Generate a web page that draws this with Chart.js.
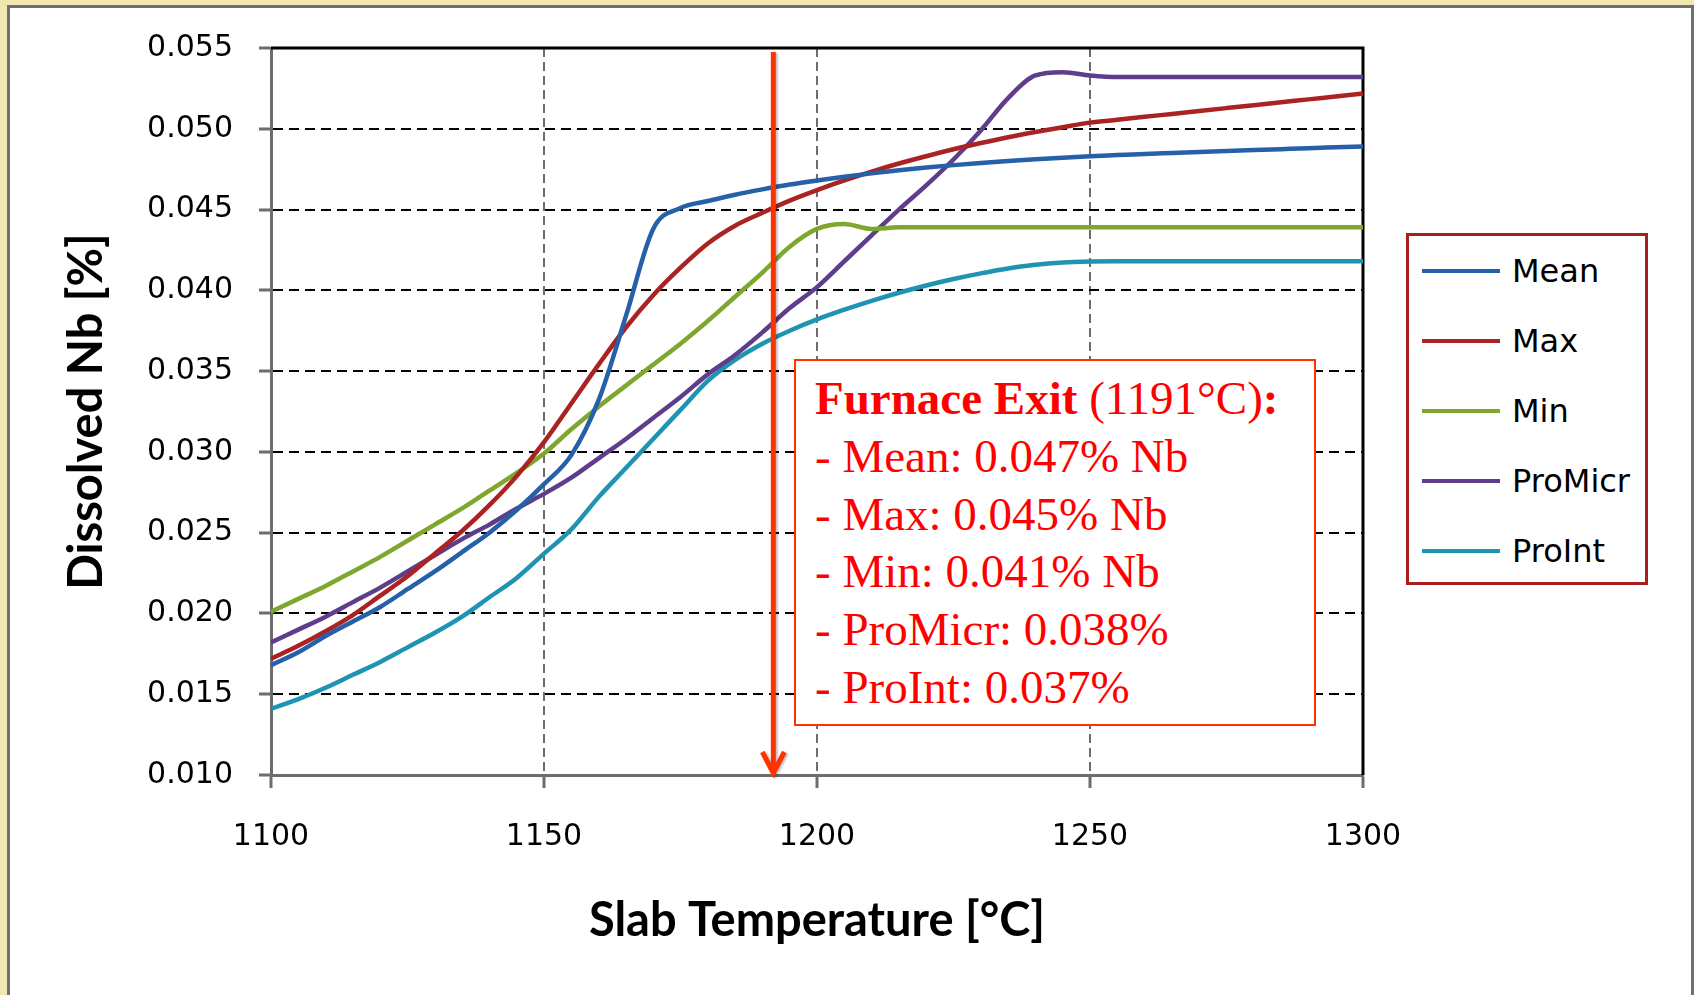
<!DOCTYPE html>
<html>
<head>
<meta charset="utf-8">
<script src="https://cdn.jsdelivr.net/npm/chart.js@4"></script>
<style>
  html, body { margin: 0; padding: 0; }
  body { width: 1694px; height: 995px; background: #F0E8B0; position: relative; overflow: hidden; }
  #pannello { position: absolute; left: 7px; top: 5px; width: 1687px; height: 1000px; box-sizing: border-box;
    border: 3px solid #6f6f6f; border-bottom: none; background: #fff; }
  #grafico { position: absolute; left: 0; top: 0; z-index: 1; }
  #legenda { position: absolute; left: 1406px; top: 233px; width: 242px; height: 352px; box-sizing: border-box;
    border: 3px solid #A81E1E; background: #fff; z-index: 2; }
  .voce { position: absolute; left: 13px; height: 40px; font: 32px "DejaVu Sans", sans-serif; color: #000; }
  .voce span.linea { position: absolute; left: 0; top: 18px; width: 78px; height: 4px; }
  .voce span.testo { position: absolute; left: 90px; top: 0; line-height: 40px; white-space: nowrap; }
  #nota { position: absolute; left: 794px; top: 359px; width: 522px; height: 367px; box-sizing: border-box;
    border: 2px solid #FF3300; background: #fff; z-index: 2; padding: 9px 0 0 19px;
    font: 47px/57.8px "Liberation Serif", "Times New Roman", serif; color: #FF0000; white-space: nowrap; }
</style>
</head>
<body>
<div id="pannello"></div>
<canvas id="grafico" width="1694" height="995"></canvas>
<div id="legenda"></div>
<div id="nota">
  <div><b>Furnace Exit</b> (1191°C)<b>:</b></div>
  <div>- Mean: 0.047% Nb</div>
  <div>- Max: 0.045% Nb</div>
  <div>- Min: 0.041% Nb</div>
  <div>- ProMicr: 0.038%</div>
  <div>- ProInt: 0.037%</div>
</div>
<script>
// temperature [°C]
var temperature = [1100,1105,1110,1115,1120,1125,1130,1135,1140,1145,1150,
                   1155,1160,1165,1170,1175,1180,1185,1190,1195,1200,
                   1205,1210,1215,1220,1225,1230,1235,1240,1245,1250,
                   1255,1260,1265,1270,1275,1280,1285,1290,1295,1300];

var mean = [0.0168,0.0176,0.0186,0.0195,0.0204,0.0215,0.0226,0.0238,0.0250,0.0264,0.0280,
            0.0298,0.0332,0.0384,0.0438,0.04510,0.04553,0.04592,0.04625,0.04655,0.04680,
            0.04703,0.04724,0.04743,0.04760,0.04775,0.04788,0.04800,0.04811,0.04821,0.04830,
            0.04837,0.04844,0.04850,0.04856,0.04862,0.04868,0.04874,0.04880,0.04885,0.04890];

var max = [0.0172,0.0180,0.0189,0.0199,0.0211,0.0223,0.0237,0.0251,0.0267,0.0285,0.0306,
           0.0330,0.0354,0.0377,0.0397,0.0414,0.0429,0.0440,0.0448,0.04555,0.04620,
           0.04680,0.04735,0.04785,0.04830,0.04873,0.04912,0.04948,0.04980,0.05010,0.05038,
           0.05056,0.05074,0.05092,0.05110,0.05128,0.05146,0.05164,0.05182,0.05200,0.05218];

var min = [0.0201,0.0209,0.0217,0.0226,0.0235,0.0245,0.0255,0.0265,0.0276,0.0287,0.0299,
           0.0314,0.0328,0.0341,0.0354,0.0367,0.0381,0.0396,0.0411,0.0427,0.0438,
           0.0441,0.0438,0.0439,0.0439,0.0439,0.0439,0.0439,0.0439,0.0439,0.0439,
           0.0439,0.0439,0.0439,0.0439,0.0439,0.0439,0.0439,0.0439,0.0439,0.0439];

var proMicr = [0.0182,0.0190,0.0198,0.0207,0.0216,0.0226,0.0236,0.0246,0.0255,0.0265,0.0274,
               0.0284,0.0296,0.0308,0.0321,0.0334,0.0348,0.0360,0.0374,0.0389,0.0402,
               0.0418,0.0434,0.0450,0.0465,0.0481,0.0499,0.0519,0.0533,0.0535,0.0533,
               0.0532,0.0532,0.0532,0.0532,0.0532,0.0532,0.0532,0.0532,0.0532,0.0532];

var proInt = [0.0141,0.0147,0.0154,0.0162,0.0170,0.0179,0.0188,0.0198,0.0210,0.0222,0.0237,
              0.0252,0.0272,0.0290,0.0308,0.0326,0.0344,0.0357,0.0367,0.0375,0.0382,
              0.03880,0.03935,0.03985,0.04030,0.04070,0.04105,0.04135,0.04158,0.04172,0.04178,
              0.0418,0.0418,0.0418,0.0418,0.0418,0.0418,0.0418,0.0418,0.0418,0.0418];

var nomiSerie = ["Mean", "Max", "Min", "ProMicr", "ProInt"];
var coloriSerie = ["#2560A8", "#AA2222", "#7FA62D", "#5E3D8A", "#1F93B2"];
var yTicks = [0.010, 0.015, 0.020, 0.025, 0.030, 0.035, 0.040, 0.045, 0.050, 0.055];
var xTicks = [1100, 1150, 1200, 1250, 1300];
var tempUscita = 1192;

var grigio = "#6d6d6d";

function punti(valori){
    return temperature.map((t, i) => ({x: t, y: valori[i]}));
}

function popolaLegenda(){
    var box = document.getElementById("legenda");
    for (var i = 0; i < nomiSerie.length; i++){
        var v = document.createElement("div");
        v.className = "voce";
        v.style.top = (15 + i * 70) + "px";
        v.innerHTML = '<span class="linea" style="background:' + coloriSerie[i] + '"></span><span class="testo">' + nomiSerie[i] + '</span>';
        box.appendChild(v);
    }
}

// bordo nero sopra e a destra
const cornice = {
    id: "cornice",
    beforeDatasetsDraw(chart){
        const a = chart.chartArea, ctx = chart.ctx;
        ctx.save();
        ctx.strokeStyle = "#000";
        ctx.lineWidth = 3;
        ctx.beginPath();
        ctx.moveTo(a.left, a.top);
        ctx.lineTo(a.right, a.top);
        ctx.lineTo(a.right, a.bottom);
        ctx.stroke();
        ctx.restore();
    }
};

// freccia rossa all'uscita del forno
const freccia = {
    id: "freccia",
    afterDatasetsDraw(chart){
        const a = chart.chartArea, ctx = chart.ctx;
        const x = chart.scales.x.getPixelForValue(tempUscita);
        const y1 = a.top + 4, y2 = a.bottom - 2;
        ctx.save();
        ctx.shadowColor = "rgba(0,0,0,0.25)";
        ctx.shadowOffsetX = 2;
        ctx.shadowOffsetY = 1;
        ctx.shadowBlur = 2;
        ctx.strokeStyle = "#FF3300";
        ctx.lineWidth = 5;
        ctx.lineJoin = "miter";
        ctx.beginPath();
        ctx.moveTo(x, y1);
        ctx.lineTo(x, y2);
        ctx.moveTo(x - 11, y2 - 21);
        ctx.lineTo(x, y2);
        ctx.lineTo(x + 11, y2 - 21);
        ctx.stroke();
        ctx.restore();
    }
};

function creaGrafico(){
    const context = document.getElementById("grafico").getContext("2d");
    const serie = [mean, max, min, proMicr, proInt];

    new Chart(context, {
        type: "line",
        data: {
            datasets: serie.map((s, i) => ({
                label: nomiSerie[i],
                data: punti(s),
                borderColor: coloriSerie[i],
                backgroundColor: coloriSerie[i],
                borderWidth: 4.5,
                pointRadius: 0,
                fill: false,
                cubicInterpolationMode: "monotone"
            }))
        },
        options: {
            responsive: false,
            animation: false,
            devicePixelRatio: 1,
            layout: { padding: { left: 0, top: 48, right: 331, bottom: 0 } },
            plugins: { legend: { display: false }, tooltip: { enabled: false } },
            scales: {
                x: {
                    type: "linear",
                    min: 1100,
                    max: 1300,
                    afterFit: s => { s.height = 220; },
                    afterBuildTicks: s => { s.ticks = xTicks.map(v => ({value: v})); },
                    ticks: {
                        color: "#000",
                        padding: 31,
                        maxRotation: 0,
                        font: { family: "DejaVu Sans", size: 30 },
                        callback: v => String(v)
                    },
                    grid: {
                        color: c => (c.tick && (c.tick.value === 1100 || c.tick.value === 1300)) ? "rgba(0,0,0,0)" : grigio,
                        lineWidth: 2,
                        tickColor: grigio,
                        tickWidth: 3,
                        tickLength: 13,
                        tickBorderDash: []
                    },
                    border: { display: true, color: grigio, width: 3, dash: [9, 5] },
                    title: {
                        display: true,
                        text: "Slab Temperature [°C]",
                        color: "#000",
                        font: { family: "Lato", size: 47, weight: "bold" },
                        padding: { top: 0, bottom: 46 }
                    }
                },
                y: {
                    min: 0.010,
                    max: 0.055,
                    afterFit: s => { s.width = 271; },
                    afterBuildTicks: s => { s.ticks = yTicks.map(v => ({value: v})); },
                    ticks: {
                        color: "#000",
                        padding: 26,
                        font: { family: "DejaVu Sans", size: 30 },
                        callback: v => Number(v).toFixed(3)
                    },
                    grid: {
                        color: c => (c.tick && (Math.abs(c.tick.value - 0.010) < 1e-6 || Math.abs(c.tick.value - 0.055) < 1e-6)) ? "rgba(0,0,0,0)" : "#000",
                        lineWidth: 2,
                        tickColor: grigio,
                        tickWidth: 3,
                        tickLength: 12,
                        tickBorderDash: []
                    },
                    border: { display: true, color: grigio, width: 3, dash: [10, 6] },
                    title: {
                        display: true,
                        text: "Dissolved Nb [%]",
                        color: "#000",
                        font: { family: "Lato", size: 47, weight: "bold" },
                        padding: { top: 59, bottom: 0 }
                    }
                }
            }
        },
        plugins: [cornice, freccia]
    });
}

document.addEventListener("DOMContentLoaded", () => {
    popolaLegenda();
    creaGrafico();
});
</script>
</body>
</html>
